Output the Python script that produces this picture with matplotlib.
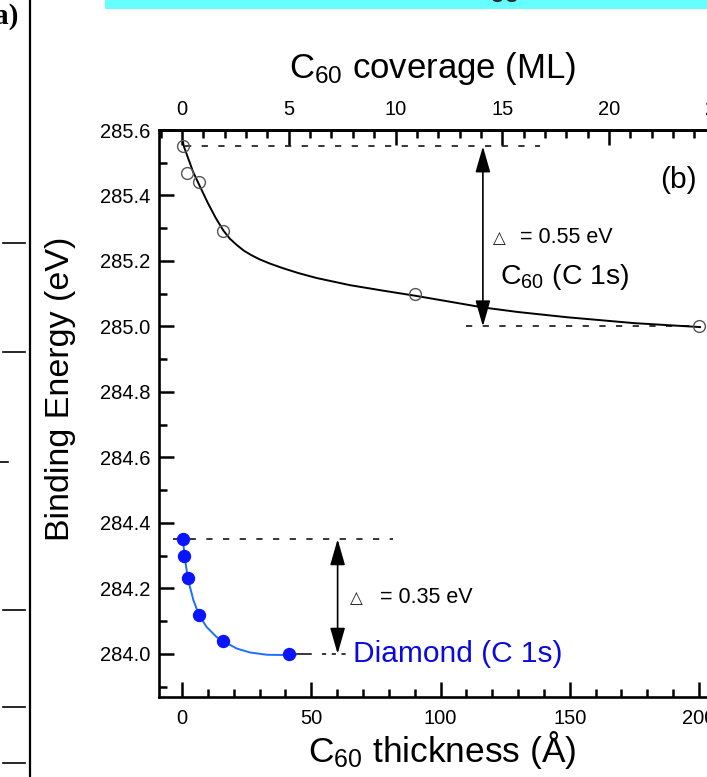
import matplotlib
matplotlib.use("Agg")
import matplotlib.pyplot as plt
from matplotlib.ticker import MultipleLocator, FormatStrFormatter
from matplotlib.patches import Rectangle
from matplotlib.lines import Line2D

plt.rcParams['font.family'] = ['Liberation Sans', 'DejaVu Sans']
plt.rcParams['mathtext.fontset'] = 'custom'
plt.rcParams['mathtext.rm'] = 'Liberation Sans'
plt.rcParams['mathtext.it'] = 'Liberation Sans:italic'
plt.rcParams['mathtext.bf'] = 'Liberation Sans:bold'
plt.rcParams['mathtext.default'] = 'regular'
plt.rcParams['lines.scale_dashes'] = False

# ---------------- data ----------------
# C60 C 1s binding energy vs C60 thickness (open circles)
thick_c60 = [0.5, 2.0, 6.5, 16.0, 90.0, 200.0]
be_c60 = [285.55, 285.47, 285.44, 285.29, 285.10, 285.00]
# fitted curve through the C60 points
fit_c60_x = [0.3, 0.8, 4.3, 6.5, 10.0, 13.0, 16.0, 18.5, 21.3, 24.0, 27.0, 30.0,
             34.0, 39.0, 45.0, 52.0, 65.0, 78.0, 90.0, 104.0, 116.4, 130.0, 149.0,
             175.0, 200.4]
fit_c60_y = [285.565, 285.548, 285.472, 285.435, 285.377, 285.332, 285.293, 285.268,
             285.248, 285.231, 285.217, 285.205, 285.192, 285.178, 285.163, 285.148,
             285.126, 285.109, 285.094, 285.075, 285.058, 285.044, 285.028, 285.010,
             284.998]

# Diamond C 1s binding energy vs C60 thickness (filled blue circles)
thick_dia = [0.4, 0.8, 2.4, 6.6, 16.0, 41.5]
be_dia = [284.35, 284.30, 284.23, 284.12, 284.04, 284.00]
fit_dia_x = [0.5, 1.2, 2.4, 4.4, 6.6, 9.5, 13.4, 16.0, 21.2, 26.3, 32.8, 41.5, 44.0]
fit_dia_y = [284.337, 284.286, 284.225, 284.164, 284.118, 284.082, 284.051, 284.038,
             284.016, 284.004, 283.997, 283.996, 283.997]

# reference levels and shifts
c60_high, c60_low = 285.55, 285.00
dia_high, dia_low = 284.35, 284.00
ML_THICKNESS = 8.26  # Angstrom per monolayer (top axis conversion)

x_ticks_major, x_ticks_minor = 50, 10
y_ticks_major, y_ticks_minor = 0.2, 0.1
ml_ticks_major, ml_ticks_minor = 5, 1

# ---------------- figure ----------------
W, H = 707, 777
fig = plt.figure(figsize=(W / 100, H / 100), dpi=100)

def fx(px):
    return px / W

def fy(py):
    return 1 - py / H

# fragment of neighbouring panel (a)
fig.add_artist(Line2D([fx(30), fx(30)], [0, 1], color='black', lw=1.6,
                      transform=fig.transFigure))
for yy, x0 in [(243, 3), (352, 3), (462, 0), (610, 3), (707, 3), (763, 3)]:
    x1 = 8 if yy == 462 else 25
    fig.add_artist(Line2D([fx(x0), fx(x1)], [fy(yy), fy(yy)], color='black', lw=1.2,
                          transform=fig.transFigure))
fig.text(fx(18), fy(16), 'a)', ha='right', va='center', fontsize=21,
         family='Liberation Serif', fontweight='bold')
fig.add_artist(Rectangle((fx(105), fy(9)), 1 - fx(105), 9 / H, transform=fig.transFigure,
                         facecolor='#66ffff', edgecolor='none'))
fig.text(fx(490), fy(-4), 'gg', fontsize=20, va='baseline', ha='left', color='#222222')

# main axes (panel b)
ax = fig.add_axes([fx(159), 80 / H, 566 / W, 567 / H])
ax.set_xlim(-8.9, 210.06)
ax.set_ylim(283.868, 285.6)

# C60 series
ax.plot(fit_c60_x, fit_c60_y, color='black', lw=1.4, zorder=3)
ax.plot(thick_c60, be_c60, linestyle='none', marker='o', ms=8.5, mfc='none',
        mec='#555555', mew=1.0, zorder=4)

# Diamond series
ax.plot(fit_dia_x, fit_dia_y, color='#1e6eff', lw=1.4, zorder=3)
ax.plot(thick_dia, be_dia, linestyle='none', marker='o', ms=8.6, mfc='#0a14ff',
        mec='#0a14ff', zorder=4)

# dashed reference lines
dash = (0, (4.5, 7.5))
ax.plot([1, 138.5], [c60_high, c60_high], color='black', lw=1.1, ls=dash, zorder=2)
ax.plot([110, 200], [c60_low, c60_low], color='black', lw=1.1, ls=dash, zorder=2)
ax.plot([-3.5, 81.6], [dia_high, dia_high], color='black', lw=1.1, ls=dash, zorder=2)
ax.plot([43, 50], [dia_low, dia_low], color='black', lw=1.1, zorder=2)
ax.plot([54, 64.5], [dia_low, dia_low], color='black', lw=1.1, ls=(0, (3, 4)), zorder=2)

# double arrows
arrow_style = '<|-|>,head_length=16,head_width=4.6'
ax.annotate('', xy=(116.4, c60_low), xytext=(116.4, c60_high),
            arrowprops=dict(arrowstyle=arrow_style, mutation_scale=1, lw=1.2,
                            color='black', shrinkA=0, shrinkB=0))
ax.annotate('', xy=(60.2, dia_low), xytext=(60.2, dia_high),
            arrowprops=dict(arrowstyle=arrow_style, mutation_scale=1, lw=1.2,
                            color='black', shrinkA=0, shrinkB=0))

# annotations
ax.text(122.6, 285.254, '\u25b3', fontsize=12, family='DejaVu Sans',
        ha='center', va='baseline', color='#222222')
ax.text(130.8, 285.254, '= 0.55 eV', fontsize=15.5, ha='left', va='baseline')
ax.text(123.0, 285.129, 'C$_{60}$ (C 1s)', fontsize=20.5, ha='left', va='baseline')
ax.text(192.0, 285.447, '(b)', fontsize=21.5, ha='center', va='center')

ax.text(67.3, 284.155, '\u25b3', fontsize=12, family='DejaVu Sans',
        ha='center', va='baseline', color='#222222')
ax.text(76.6, 284.155, '= 0.35 eV', fontsize=15.5, ha='left', va='baseline')
ax.text(66.1, 283.974, 'Diamond (C 1s)', fontsize=21.5, ha='left', va='baseline',
        color='#0a0ae0')

# ticks and spines
for sp in ax.spines.values():
    sp.set_linewidth(1.9)
ax.xaxis.set_major_locator(MultipleLocator(x_ticks_major))
ax.xaxis.set_minor_locator(MultipleLocator(x_ticks_minor))
ax.yaxis.set_major_locator(MultipleLocator(y_ticks_major))
ax.yaxis.set_minor_locator(MultipleLocator(y_ticks_minor))
ax.yaxis.set_major_formatter(FormatStrFormatter('%.1f'))
ax.tick_params(which='both', direction='in', top=False, right=False, width=1.8)
ax.tick_params(which='major', length=11, labelsize=14.5)
ax.tick_params(which='minor', length=5.8)
ax.tick_params(axis='x', which='major', pad=9)
ax.tick_params(axis='y', which='major', pad=6)

ax.set_xlabel('C$_{60}$ thickness (\u00c5)', fontsize=25.5, va='baseline')
ax.xaxis.set_label_coords(0.5, -0.1146)
ax.set_ylabel('Binding Energy (eV)', fontsize=24.5, va='center', ha='center')
ax.yaxis.set_label_coords(-0.174, 0.544)

# top axis: coverage in monolayers
sec = ax.secondary_xaxis('top', functions=(lambda a: a / ML_THICKNESS,
                                           lambda m: m * ML_THICKNESS))
sec.xaxis.set_major_locator(MultipleLocator(ml_ticks_major))
sec.xaxis.set_minor_locator(MultipleLocator(ml_ticks_minor))
sec.tick_params(which='both', direction='in', width=1.8)
sec.tick_params(which='major', length=11, labelsize=14.5, pad=8)
sec.tick_params(which='minor', length=5.8)
sec.spines['top'].set_linewidth(1.9)
fig.text(fx(433), fy(78), 'C$_{60}$ coverage (ML)', fontsize=25, ha='center',
         va='baseline')

fig.savefig('out.png', dpi=100)
